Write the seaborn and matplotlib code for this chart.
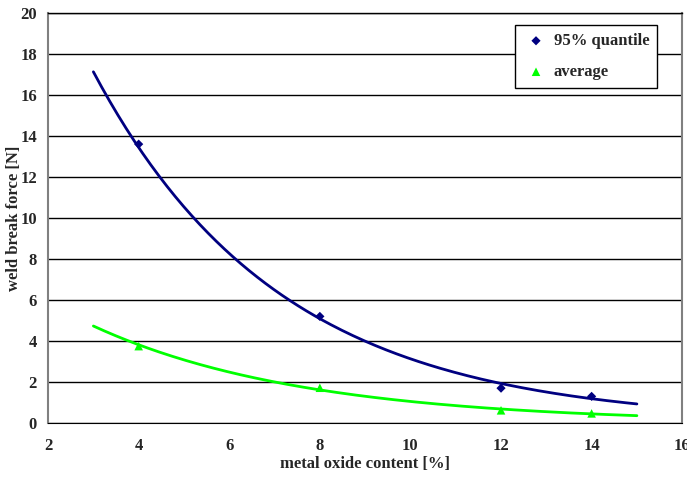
import numpy as np
import pandas as pd
import matplotlib
matplotlib.use("Agg")
import matplotlib.pyplot as plt
import seaborn as sns

oxide_content = [4, 8, 12, 14]
quantile_95 = [13.6, 5.2, 1.7, 1.3]
average = [3.75, 1.72, 0.62, 0.47]

series_names = ["95% quantile", "average"]
x_ticks = [2, 4, 6, 8, 10, 12, 14, 16]
y_ticks = [0, 2, 4, 6, 8, 10, 12, 14, 16, 18, 20]
trend_from, trend_to = 3, 15

sns.set_style("white")
plt.rcParams['font.family'] = ['Liberation Serif', 'DejaVu Serif']
plt.rcParams['font.weight'] = 'bold'

colors = {series_names[0]: "#000080", series_names[1]: "#00FF00"}
markers = {series_names[0]: "D", series_names[1]: "^"}
sizes = {series_names[0]: 22, series_names[1]: 38}

fig = plt.figure(figsize=(6.87, 4.78), dpi=100)
ax = fig.add_axes([0.070, 0.115, 0.923, 0.858])

# exponential trend lines, fitted like Excel does (log-linear least squares)
xs = np.linspace(trend_from, trend_to, 200)
for name, vals in zip(series_names, [quantile_95, average]):
    b, ln_a = np.polyfit(oxide_content, np.log(vals), 1)
    trend = pd.DataFrame({"x": xs, "y": np.exp(ln_a + b * xs)})
    sns.lineplot(data=trend, x="x", y="y", color=colors[name], linewidth=2.0,
                 ax=ax, zorder=3)
    pts = pd.DataFrame({"x": oxide_content, "y": vals})
    sns.scatterplot(data=pts, x="x", y="y", color=colors[name], marker=markers[name],
                    s=sizes[name], edgecolor="none", label=name, ax=ax, zorder=4)

ax.set_xlim(2, 16)
ax.set_ylim(0, 20)
ax.set_xticks(x_ticks)
ax.set_yticks(y_ticks)
ax.yaxis.grid(True, color="black", linewidth=1.0)
ax.set_axisbelow(True)

for side in ["left", "right"]:
    ax.spines[side].set_color("#808080")
    ax.spines[side].set_linewidth(1.5)
ax.spines["bottom"].set_color("black")
ax.spines["top"].set_color("black")
ax.spines["top"].set_linewidth(1.0)

ax.tick_params(axis="both", direction="out", length=5, width=1, labelsize=12,
               color="black")
ax.tick_params(axis="x", pad=6)
ax.tick_params(axis="y", pad=3)
for lbl in ax.get_xticklabels() + ax.get_yticklabels():
    lbl.set_fontweight("bold")

ax.set_xlabel("metal oxide content [%]", fontsize=12, fontweight="bold", labelpad=1)
ax.set_ylabel("weld break force [N]", fontsize=12, fontweight="bold", labelpad=-1)

handles, labels = ax.get_legend_handles_labels()
leg = ax.legend(handles, labels, loc="upper right", bbox_to_anchor=(0.961, 0.971),
                borderaxespad=0, frameon=True, fancybox=False, edgecolor="black",
                framealpha=1, fontsize=12, handletextpad=0.3, labelspacing=0.9,
                borderpad=0.5, handlelength=1.5)
leg.get_frame().set_linewidth(1.0)
for t in leg.get_texts():
    t.set_fontweight("bold")

fig.savefig("out.png", dpi=100)
